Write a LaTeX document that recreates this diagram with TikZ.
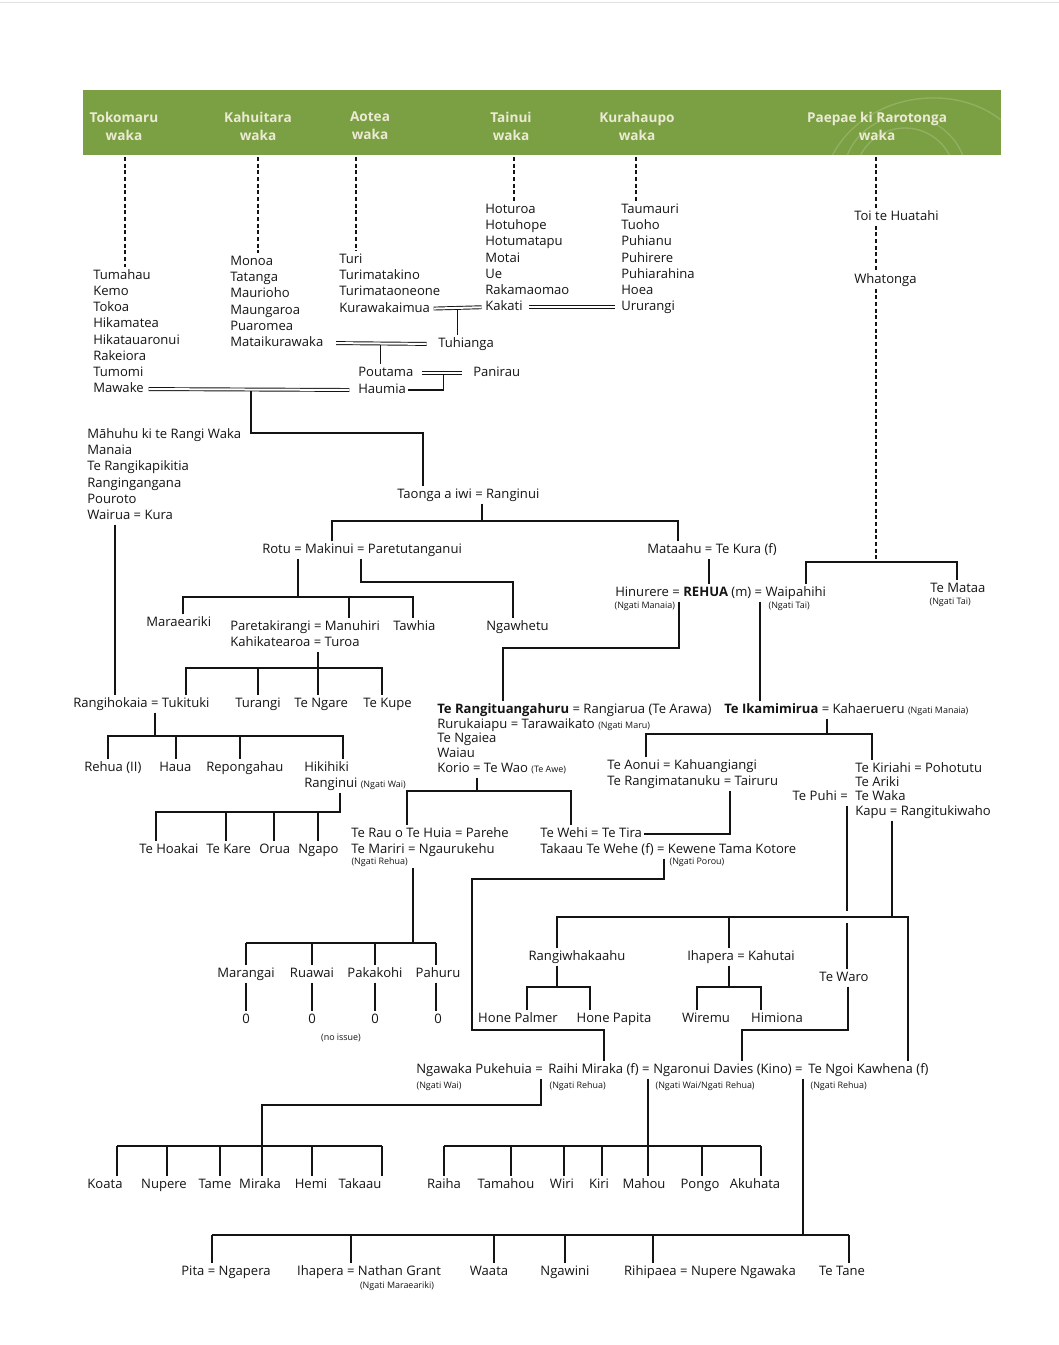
\documentclass[tikz,border=0pt]{standalone}
\usepackage{fontspec}
\setmainfont{Open Sans}
\usetikzlibrary{calc}
\definecolor{wakagreen}{RGB}{122,160,67}
\definecolor{cream}{RGB}{236,233,212}
\definecolor{ink}{RGB}{20,20,20}
\newcommand{\iwi}[1]{{\fontsize{6.7}{7.5}\selectfont(#1)}}

\begin{document}
\begin{tikzpicture}[x=0.75pt, y=-0.75pt,
    every node/.style={font=\fontsize{9.8}{12}\selectfont, text=ink, inner sep=1.5pt},
    person/.style={anchor=west, text height=7.4pt, text depth=2.2pt, yshift=-1.5pt},
    kid/.style={person, anchor=center},
    tribe/.style={anchor=west, inner sep=1pt, yshift=-1pt, font=\fontsize{6.7}{7.5}\selectfont},
    wakalabel/.style={align=center, text=cream, font=\bfseries\fontsize{10.2}{13.5}\selectfont},
    link/.style={draw=ink, line width=1pt},
    wed/.style={draw=ink, line width=.7pt, double=white, double distance=1.5pt},
    lineage/.style={draw=ink, line width=.9pt, dash pattern=on 3pt off 2pt}
  ]
    \useasboundingbox[fill=white] (0,0) rectangle (1059,1345);
    \draw[black!12] (0,2) -- (1059,2);
    \fill[wakagreen] (83,90) rectangle (1001,155);
    \begin{scope}
      \clip (83,90) rectangle (1001,155);
      \draw[cream, opacity=.22, line width=1pt] (905,178) circle (62) (905,178) circle (50);
      \draw[cream, opacity=.22, line width=1pt] (830,160) .. controls (860,95) and (950,80) .. (1001,120);
    \end{scope}
    \node[wakalabel] (hTok) at (124,126) {Tokomaru\\waka};
    \node[wakalabel] (hKah) at (258,126) {Kahuitara\\waka};
    \node[wakalabel] (hAot) at (370,126) {Aotea\\waka};
    \node[wakalabel] (hTai) at (511,126) {Tainui\\waka};
    \node[wakalabel] (hKur) at (637,126) {Kurahaupo\\waka};
    \node[wakalabel] (hPae) at (877,126) {Paepae ki Rarotonga\\waka};

    \foreach \who [count=\i] in {Tumahau,Kemo,Tokoa,Hikamatea,Hikatauaronui,Rakeiora,Tumomi,Mawake}
      \node[person] (tok\i) at (91,{274+16.15*(\i-1)}) {\who};
    \foreach \who [count=\i] in {Monoa,Tatanga,Maurioho,Maungaroa,Puaromea,Mataikurawaka}
      \node[person] (kah\i) at (228,{260+16.2*(\i-1)}) {\who};
    \foreach \who [count=\i] in {Turi,Turimatakino,Turimataoneone,Kurawakaimua}
      \node[person] (aot\i) at (337,{258+16.2*(\i-1)}) {\who};
    \foreach \who [count=\i] in {Hoturoa,Hotuhope,Hotumatapu,Motai,Ue,Rakamaomao,Kakati}
      \node[person] (tai\i) at (483,{208+16.2*(\i-1)}) {\who};
    \foreach \who [count=\i] in {Taumauri,Tuoho,Puhianu,Puhirere,Puhiarahina,Hoea,Ururangi}
      \node[person] (kur\i) at (619,{208+16.2*(\i-1)}) {\who};
    \node[person] (toi) at (852,215) {Toi te Huatahi};
    \node[person] (whatonga) at (852,278) {Whatonga};
    \node[person] (tuhianga) at (436,342) {Tuhianga};
    \node[person] (poutama) at (356,371) {Poutama};
    \node[person] (panirau) at (471,371) {Panirau};
    \node[person] (haumia) at (356,388) {Haumia};

    \foreach \who [count=\i] in {Māhuhu ki te Rangi Waka,Manaia,Te Rangikapikitia,Rangingangana,Pouroto,Wairua = Kura}
      \node[person] (mah\i) at (85,{433+16.2*(\i-1)}) {\who};
    \node[person] (taonga) at (395,493) {Taonga a iwi = Ranginui};
    \node[person] (rotu) at (260,548) {Rotu = Makinui = Paretutanganui};
    \node[person] (mataahu) at (645,548) {Mataahu = Te Kura (f)};
    \node[person] (rehua) at (613,591) {Hinurere = \textbf{REHUA} (m) = Waipahihi};
    \node[tribe] (nManaia) at (613,605) {(Ngati Manaia)};
    \node[tribe] (nTai) at (767,605) {(Ngati Tai)};
    \node[person] (temataa) at (928,587) {Te Mataa};
    \node[tribe] (nTaiB) at (928,601) {(Ngati Tai)};
    \node[person] (maraeariki) at (144,621) {Maraeariki};
    \node[person] (paretakirangi) at (228,625) {Paretakirangi = Manuhiri};
    \node[person] (kahikatearoa) at (228,641) {Kahikatearoa = Turoa};
    \node[person] (tawhia) at (391,625) {Tawhia};
    \node[person] (ngawhetu) at (484,625) {Ngawhetu};

    \node[person] (rangihokaia) at (71,702) {Rangihokaia = Tukituki};
    \node[person] (turangi) at (233,702) {Turangi};
    \node[person] (tengare) at (292,702) {Te Ngare};
    \node[person] (tekupe) at (361,702) {Te Kupe};
    \node[person] (rehuaII) at (82,766) {Rehua (II)};
    \node[person] (haua) at (157,766) {Haua};
    \node[person] (repongahau) at (204,766) {Repongahau};
    \node[person] (hikihiki) at (302,766) {Hikihiki};
    \node[person] (ranginui) at (302,782) {Ranginui \iwi{Ngati Wai}};
    \node[person] (tehoakai) at (137,848) {Te Hoakai};
    \node[person] (tekare) at (204,848) {Te Kare};
    \node[person] (orua) at (257,848) {Orua};
    \node[person] (ngapo) at (296,848) {Ngapo};

    \foreach \who [count=\i] in {{\textbf{Te Rangituangahuru} = Rangiarua (Te Arawa)},{Rurukaiapu = Tarawaikato \iwi{Ngati Maru}},{Te Ngaiea},{Waiau},{Korio = Te Wao \iwi{Te Awe}}}
      \node[person] (rt\i) at (435,{708+14.75*(\i-1)}) {\who};
    \node[person] (ikamimirua) at (722,708) {\textbf{Te Ikamimirua} = Kahaerueru \iwi{Ngati Manaia}};
    \node[person] (teaonui) at (605,764) {Te Aonui = Kahuangiangi};
    \node[person] (terangimatanuku) at (605,780) {Te Rangimatanuku = Tairuru};
    \node[person] (tekiriahi) at (853,767) {Te Kiriahi = Pohotutu};
    \node[person] (teariki) at (853,781) {Te Ariki};
    \node[person] (tewaka) at (853,795) {Te Waka};
    \node[person, anchor=east] (tepuhi) at (850,795) {Te Puhi =};
    \node[person] (kapu) at (853,810) {Kapu = Rangitukiwaho};
    \node[person] (terau) at (349,832) {Te Rau o Te Huia = Parehe};
    \node[person] (temariri) at (349,848) {Te Mariri = Ngaurukehu};
    \node[tribe] (nRehua) at (350,861) {(Ngati Rehua)};
    \node[person] (tewehi) at (538,832) {Te Wehi = Te Tira};
    \node[person] (takaau) at (538,848) {Takaau Te Wehe (f) = Kewene Tama Kotore};
    \node[tribe] (nPorou) at (668,861) {(Ngati Porou)};

    \foreach \who/\x [count=\i] in {Marangai/246,Ruawai/312,Pakakohi/375,Pahuru/438} {
      \node[kid] (kid\i) at (\x,972) {\who};
      \node[kid] (nil\i) at (\x,1018) {0};
    }
    \node[tribe, anchor=center] (noissue) at (341,1037) {(no issue)};
    \node[kid] (rangiwhakaahu) at (577,955) {Rangiwhakaahu};
    \node[kid] (ihapera) at (741,955) {Ihapera = Kahutai};
    \node[kid] (tewaro) at (844,976) {Te Waro};
    \node[kid] (honepalmer) at (518,1017) {Hone Palmer};
    \node[kid] (honepapita) at (614,1017) {Hone Papita};
    \node[kid] (wiremu) at (706,1017) {Wiremu};
    \node[kid] (himiona) at (777,1017) {Himiona};

    \node[person] (ngawaka) at (414,1068) {Ngawaka Pukehuia =};
    \node[person] (raihi) at (546,1068) {Raihi Miraka (f) =};
    \node[person] (ngaronui) at (651,1068) {Ngaronui Davies (Kino) =};
    \node[person] (tengoi) at (806,1068) {Te Ngoi Kawhena (f)};
    \node[tribe] (nWai) at (415,1085) {(Ngati Wai)};
    \node[tribe] (nRehuaB) at (548,1085) {(Ngati Rehua)};
    \node[tribe] (nWaiRehua) at (654,1085) {(Ngati Wai/Ngati Rehua)};
    \node[tribe] (nRehuaC) at (809,1085) {(Ngati Rehua)};
    \foreach \who/\x [count=\i] in {Koata/105,Nupere/164,Tame/215,Miraka/260,Hemi/311,Takaau/360}
      \node[kid] (ko\i) at (\x,1183) {\who};
    \foreach \who/\x [count=\i] in {Raiha/444,Tamahou/506,Wiri/562,Kiri/599,Mahou/644,Pongo/700,Akuhata/755}
      \node[kid] (mo\i) at (\x,1183) {\who};
    \node[kid] (pita) at (226,1270) {Pita = Ngapera};
    \node[kid] (ihaperaB) at (369,1270) {Ihapera = Nathan Grant};
    \node[tribe, anchor=center] (nMaraeariki) at (397,1285) {(Ngati Maraeariki)};
    \node[kid] (waata) at (489,1270) {Waata};
    \node[kid] (ngawini) at (565,1270) {Ngawini};
    \node[kid] (rihipaea) at (710,1270) {Rihipaea = Nupere Ngawaka};
    \node[kid] (tetane) at (842,1270) {Te Tane};

    \foreach \x/\n in {125/tok1,258/kah1,356/aot1,514/tai1,636/kur1,876/toi}
      \draw[lineage] (\x,157) -- (\n.north -| \x,0);
    \draw[lineage] (toi.south -| 876,0) -- (whatonga.north -| 876,0);
    \draw[lineage] (whatonga.south -| 876,0) -- (876,562);

    \coordinate (wedA) at ($(aot4.east)!.5!(tai7.west)$);
    \coordinate (wedB) at ($(kah6.east)!.5!(tuhianga.west)$);
    \coordinate (wedC) at ($(poutama.east)!.5!(panirau.west)$);
    \coordinate (wedD) at ($(tok8.east)!.5!(haumia.west)$);
    \draw[link] (wedA) -- (wedA |- tuhianga.north);
    \draw[link] (wedB) -- (wedB |- poutama.north);
    \draw[link] (wedC) |- (haumia.east);
    \draw[link] (wedD) -- (wedD |- 0,433) -| (taonga.north -| 423,0);
    \draw[wed, shorten <=1pt, shorten >=1pt] (aot4.east) -- (tai7.west);
    \draw[wed, shorten <=3pt, shorten >=3pt] (tai7.east) -- (kur7.west);
    \draw[wed, shorten <=8pt, shorten >=7pt] (kah6.east) -- (tuhianga.west);
    \draw[wed, shorten <=5pt, shorten >=7pt] (poutama.east) -- (panirau.west);
    \draw[wed, shorten <=2pt, shorten >=5pt] (tok8.east) -- (haumia.west);

    \draw[link] (taonga.south -| 482,0) -- (482,521);
    \draw[link] (rotu.north -| 332,0) |- (678,521) -- (mataahu.north -| 678,0);
    \draw[link] (mataahu.south -| 709,0) -- (rehua.north -| 709,0);
    \draw[link] (rehua.north -| 806,0) |- (957,562) -- (temataa.north -| 957,0);
    \draw[link] (rehua.south -| 679,0) |- (503,648) -- (rt1.north -| 503,0);
    \draw[link] (rehua.south -| 760,0) -- (ikamimirua.north -| 760,0);

    \draw[link] (rotu.south -| 298,0) -- (298,597);
    \draw[link] (maraeariki.north -| 183,0) |- (413,597) -- (tawhia.north -| 413,0);
    \draw[link] (349,597) -- (paretakirangi.north -| 349,0);
    \draw[link] (rotu.south -| 361,0) |- (513,582) -- (ngawhetu.north -| 513,0);

    \draw[link] (mah6.south -| 115,0) -- (rangihokaia.north -| 115,0);
    \draw[link] (kahikatearoa.south -| 318,0) -- (tengare.north -| 318,0);
    \draw[link] (rangihokaia.north -| 186,0) |- (382,668) -- (tekupe.north -| 382,0);
    \draw[link] (258,668) -- (turangi.north -| 258,0);

    \draw[link] (rangihokaia.south -| 155,0) -- (155,736);
    \draw[link] (rehuaII.north -| 108,0) |- (343,736) -- (hikihiki.north -| 343,0);
    \draw[link] (176,736) -- (haua.north -| 176,0);
    \draw[link] (240,736) -- (repongahau.north -| 240,0);

    \draw[link] (ranginui.south -| 340,0) -- (340,812) -| (tehoakai.north -| 156,0);
    \draw[link] (226,812) -- (tekare.north -| 226,0);
    \draw[link] (274,812) -- (orua.north -| 274,0);
    \draw[link] (318,812) -- (ngapo.north -| 318,0);

    \draw[link] (rt5.south -| 477,0) -- (477,791);
    \draw[link] (terau.north -| 407,0) |- (571,791) -- (tewehi.north -| 571,0);
    \draw[link] (ikamimirua.south -| 827,0) -- (827,734);
    \draw[link] (teaonui.north -| 646,0) |- (872,734) -- (tekiriahi.north -| 872,0);
    \draw[link] (terangimatanuku.south -| 730,0) |- (tewehi.east);

    \draw[link] (nRehua.south -| 413,0) -- (413,943);
    \draw[link] (246,943) -- (436,943);
    \foreach \x [count=\i] in {246,312,375,436} {
      \draw[link] (\x,943) -- (kid\i.north -| \x,0);
      \draw[link] (kid\i.south -| \x,0) -- (nil\i.north -| \x,0);
    }

    \draw[link] (takaau.south -| 664,0) |- (472,879) -- (472,1030) -| (raihi.north -| 604,0);
    \draw[link] (tepuhi.south -| 847,0) -- (847,911);
    \draw[link] (847,923) -- (tewaro.north -| 847,0);
    \draw[link] (tewaro.south -| 848,0) |- (742,1030) -- (ngaronui.north -| 742,0);
    \draw[link] (kapu.south -| 892,0) -- (892,917);
    \draw[link] (rangiwhakaahu.north -| 557,0) |- (908,917) -- (tengoi.north -| 908,0);
    \draw[link] (729,917) -- (ihapera.north -| 729,0);
    \draw[link] (rangiwhakaahu.south -| 557,0) -- (557,987);
    \draw[link] (honepalmer.north -| 527,0) |- (590,987) -- (honepapita.north -| 590,0);
    \draw[link] (ihapera.south -| 729,0) -- (729,987);
    \draw[link] (wiremu.north -| 697,0) |- (761,987) -- (himiona.north -| 761,0);

    \draw[link] (raihi.south -| 541,0) |- (262,1105) -- (262,1146);
    \draw[link] (117,1146) -- (382,1146);
    \foreach \x [count=\i] in {117,167,220,262,312,382}
      \draw[link] (\x,1146) -- (ko\i.north -| \x,0);
    \draw[link] (ngaronui.south -| 648,0) -- (648,1146);
    \draw[link] (444,1146) -- (761,1146);
    \foreach \x [count=\i] in {444,511,564,602,648,702,761}
      \draw[link] (\x,1146) -- (mo\i.north -| \x,0);
    \draw[link] (tengoi.south -| 803,0) -- (803,1235);
    \draw[link] (212,1235) -- (849,1235);
    \draw[link] (212,1235) -- (pita.north -| 212,0);
    \draw[link] (351,1235) -- (ihaperaB.north -| 351,0);
    \draw[link] (494,1235) -- (waata.north -| 494,0);
    \draw[link] (565,1235) -- (ngawini.north -| 565,0);
    \draw[link] (653,1235) -- (rihipaea.north -| 653,0);
    \draw[link] (849,1235) -- (tetane.north -| 849,0);
  \end{tikzpicture}
\end{document}
